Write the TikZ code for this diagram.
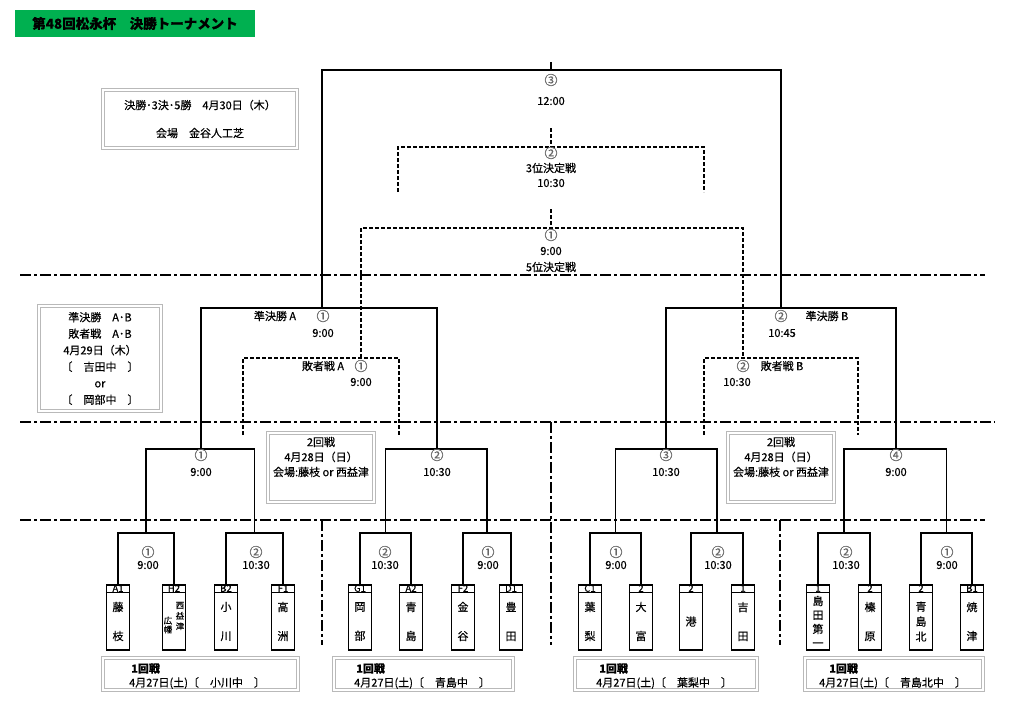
\documentclass[tikz,border=0pt]{standalone}
\usepackage{fontspec}
\setmainfont{Noto Sans CJK JP}[FakeBold=0.5]
\usetikzlibrary{positioning}
\definecolor{titlegreen}{HTML}{00B050}

\tikzset{
	win/.style={line width=1.7pt},
	lose/.style={line width=1.4pt,dash pattern=on 4pt off 2pt},
	zone/.style={line width=2.7pt,dash pattern=on 11pt off 3pt on 3pt off 3pt},
	infobox/.style={draw=gray!55,double=white,double distance=1.5pt,line width=1.4pt,inner sep=0pt},
	lbl/.style={font=\fontsize{11}{12}\selectfont,inner sep=0pt},
	num/.style={font=\fontsize{13}{13}\selectfont,text=black!60,inner sep=0pt},
	team/.style={draw,line width=1.3pt,minimum width=23pt,minimum height=65pt,inner sep=0pt},
	code/.style={font=\fontsize{9.5}{9.5}\selectfont,inner sep=0pt},
	tname/.style={font=\fontsize{11}{12}\selectfont,inner sep=0pt,align=center},
}

\begin{document}
\begin{tikzpicture}[x=1pt,y=-1pt]
	\useasboundingbox (0,0) rectangle (1024,715);

	% title
	\node[fill=titlegreen,minimum width=240pt,minimum height=27pt,font=\fontsize{13.5}{14}\selectfont\bfseries] (ttl) at (135,23.5) {第48回松永杯　決勝トーナメント};

	% info boxes
	\node[infobox,minimum width=194pt,minimum height=58pt,align=center,font=\fontsize{11}{12}\selectfont] (finbox) at (200,119) {決勝･3決･5勝　4月30日（木）\\[16pt]会場　金谷人工芝};
	\node[infobox,minimum width=122pt,minimum height=105pt,align=center,font=\fontsize{11}{16.5}\selectfont] (sfbox) at (100,358.5) {準決勝　A･B\\敗者戦　A･B\\4月29日（木）\\〔　吉田中　〕\\or\\〔　岡部中　〕};
	\node[infobox,minimum width=106pt,minimum height=69pt] (r2boxL) at (321,467.5) {};
	\node[lbl,align=center,font=\fontsize{11}{15}\selectfont] (r2txtL) at (321,457) {2回戦\\4月28日（日）\\会場:藤枝 or 西益津};
	\node[infobox,minimum width=106pt,minimum height=69pt] (r2boxR) at (781,467.5) {};
	\node[lbl,align=center,font=\fontsize{11}{15}\selectfont] (r2txtR) at (781,457) {2回戦\\4月28日（日）\\会場:藤枝 or 西益津};

	\node[infobox,minimum width=195pt,minimum height=32pt] (r1boxA) at (200.5,674) {};
	\node[lbl,anchor=west,align=left,font=\fontsize{11}{14}\selectfont] (r1txtA) at (129,676) {\hspace*{2pt}\textbf{1回戦}\\4月27日(土)〔　小川中　〕};
	\node[infobox,minimum width=179pt,minimum height=32pt] (r1boxB) at (423.5,674) {};
	\node[lbl,anchor=west,align=left,font=\fontsize{11}{14}\selectfont] (r1txtB) at (354,676) {\hspace*{2pt}\textbf{1回戦}\\4月27日(土)〔　青島中　〕};
	\node[infobox,minimum width=182pt,minimum height=32pt] (r1boxC) at (666,674) {};
	\node[lbl,anchor=west,align=left,font=\fontsize{11}{14}\selectfont] (r1txtC) at (596,676) {\hspace*{3pt}\textbf{1回戦}\\4月27日(土)〔　葉梨中　〕};
	\node[infobox,minimum width=178pt,minimum height=32pt] (r1boxD) at (894,674) {};
	\node[lbl,anchor=west,align=left,font=\fontsize{11}{14}\selectfont] (r1txtD) at (819,676) {\hspace*{10pt}\textbf{1回戦}\\4月27日(土)〔　青島北中　〕};

	% zone lines
	\draw[zone] (20,275) -- (985,275);
	\draw[zone] (20,422) -- (995,422);
	\draw[zone] (20,520) -- (985,520);
	\draw[zone] (322,520) -- (322,645);
	\draw[zone] (551,422) -- (551,645);
	\draw[zone] (780,520) -- (780,645);

	% teams
	\foreach \x/\code/\nm [count=\i] in {
		118/A1/{藤\\[17pt]枝}, 174/H2/{}, 226/B2/{小\\[17pt]川}, 283/F1/{高\\[17pt]洲},
		360/G1/{岡\\[17pt]部}, 411/A2/{青\\[17pt]島}, 463/F2/{金\\[17pt]谷}, 511/D1/{豊\\[17pt]田},
		590/C1/{葉\\[17pt]梨}, 641/2/{大\\[17pt]富}, 691/2/{港}, 743/1/{吉\\[17pt]田},
		818/1/{島\\[2pt]田\\[2pt]第\\[2pt]一}, 870/2/{榛\\[17pt]原}, 921/2/{青\\[3pt]島\\[3pt]北}, 972/B1/{焼\\[17pt]津}}
	{
		\node[team] (t\i) at (\x,617.5) {};
		\draw[line width=1pt] ([yshift=-8pt]t\i.north west) -- ([yshift=-8pt]t\i.north east);
		\node[code] (c\i) at ([yshift=-4pt]t\i.north) {\code};
		\node[tname] (n\i) at ([yshift=-4pt]t\i.center) {\nm};
	}
	\node[tname,font=\fontsize{8.5}{9}\selectfont] (n2a) at (168,625) {広\\幡};
	\node[tname,font=\fontsize{8.5}{10.5}\selectfont] (n2b) at (180,616) {西\\益\\津};

	% bracket points
	\coordinate (finT) at (551,62);
	\coordinate (fin) at (551,70);
	\coordinate (sfA) at (322,308);
	\coordinate (sfB) at (781,308);
	\coordinate (q1) at (201,449);
	\coordinate (q2) at (437,449);
	\coordinate (q3) at (666,449);
	\coordinate (q4) at (896,449);
	\coordinate (m1) at (146,533);
	\coordinate (m2) at (254.5,533);
	\coordinate (m3) at (385.5,533);
	\coordinate (m4) at (487,533);
	\coordinate (m5) at (615.5,533);
	\coordinate (m6) at (717,533);
	\coordinate (m7) at (844,533);
	\coordinate (m8) at (946.5,533);

	% winners
	\draw[win] (finT) -- (fin);
	\draw[win] (sfA) |- (fin) -| (sfB);
	\draw[win] (q1) |- (sfA) -| (q2);
	\draw[win] (q3) |- (sfB) -| (q4);
	\draw[win] (m1) |- (q1) -| (m2);
	\draw[win] (m3) |- (q2) -| (m4);
	\draw[win] (m5) |- (q3) -| (m6);
	\draw[win] (m7) |- (q4) -| (m8);
	\draw[win] (t1) |- (m1) -| (t2);
	\draw[win] (t3) |- (m2) -| (t4);
	\draw[win] (t5) |- (m3) -| (t6);
	\draw[win] (t7) |- (m4) -| (t8);
	\draw[win] (t9) |- (m5) -| (t10);
	\draw[win] (t11) |- (m6) -| (t12);
	\draw[win] (t13) |- (m7) -| (t14);
	\draw[win] (t15) |- (m8) -| (t16);

	% losers
	\coordinate (p3T) at (551,128);
	\coordinate (p3) at (551,147);
	\coordinate (p3L) at (398,192);
	\coordinate (p3R) at (704,192);
	\coordinate (p5T) at (551,209);
	\coordinate (p5) at (551,228);
	\coordinate (lA) at (361,358);
	\coordinate (lB) at (743,358);
	\coordinate (lA1) at (243,435);
	\coordinate (lA2) at (399,435);
	\coordinate (lB1) at (704,435);
	\coordinate (lB2) at (858,435);
	\draw[lose] (p3T) -- (p3);
	\draw[lose] (p3L) |- (p3) -| (p3R);
	\draw[lose] (p5T) -- (p5);
	\draw[lose] (lA) |- (p5) -| (lB);
	\draw[lose] (lA1) |- (lA) -| (lA2);
	\draw[lose] (lB1) |- (lB) -| (lB2);

	% labels
	\node[num] (finN) at (551,80) {③};
	\node[lbl] (finT1) at (551,101) {12:00};
	\node[num] (p3N) at (551,153) {②};
	\node[lbl] (p3L1) at (551,168) {3位決定戦};
	\node[lbl] (p3T1) at (551,183) {10:30};
	\node[num] (p5N) at (551,235) {①};
	\node[lbl] (p5T1) at (551,251) {9:00};
	\node[lbl] (p5L1) at (551,267) {5位決定戦};
	\node[lbl] (sfAL) at (275,316) {準決勝 A};
	\node[num] (sfAN) at (323,316) {①};
	\node[lbl] (sfAT) at (323,333) {9:00};
	\node[lbl] (lAL) at (323,366) {敗者戦 A};
	\node[num] (lAN) at (361,366) {①};
	\node[lbl] (lAT) at (361,382) {9:00};
	\node[num] (sfBN) at (781,316) {②};
	\node[lbl] (sfBL) at (827,316) {準決勝 B};
	\node[lbl] (sfBT) at (782,333) {10:45};
	\node[num] (lBN) at (743,366) {②};
	\node[lbl] (lBL) at (782,366) {敗者戦 B};
	\node[lbl] (lBT) at (737,382) {10:30};
	\foreach \x/\n/\t [count=\i] in {201/①/9:00, 437/②/10:30, 666/③/10:30, 896/④/9:00}
	{
		\node[num] (qN\i) at (\x,455) {\n};
		\node[lbl] (qT\i) at (\x,472) {\t};
	}
	\foreach \x/\n/\t [count=\i] in {148/①/9:00, 256/②/10:30, 385/②/10:30, 488/①/9:00,
		616/①/9:00, 718/②/10:30, 846/②/10:30, 947/①/9:00}
	{
		\node[num] (mN\i) at (\x,552) {\n};
		\node[lbl] (mT\i) at (\x,565) {\t};
	}
\end{tikzpicture}
\end{document}
